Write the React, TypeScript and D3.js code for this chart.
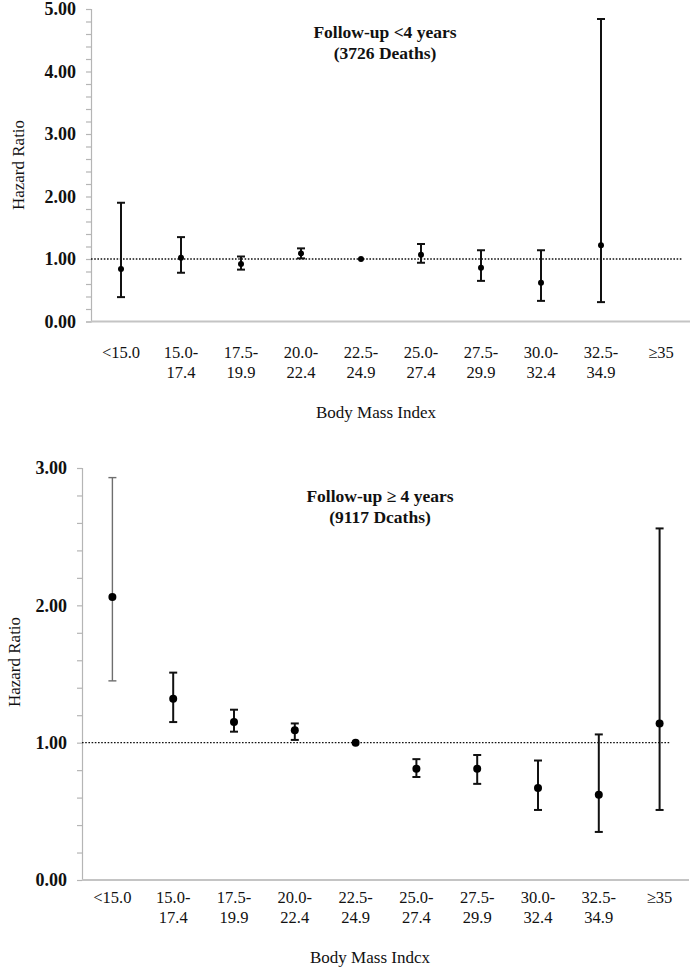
import { useRef, useEffect } from 'react';
import * as d3 from 'd3';

const CAT_LINE1 = ['<15.0', '15.0-', '17.5-', '20.0-', '22.5-', '25.0-', '27.5-', '30.0-', '32.5-', '≥35'];
const CAT_LINE2 = ['', '17.4', '19.9', '22.4', '24.9', '27.4', '29.9', '32.4', '34.9', ''];

// follow-up < 4 years
const HR_SHORT = [0.84, 1.02, 0.92, 1.09, 1.0, 1.07, 0.86, 0.62, 1.22, null];
const LO_SHORT = [0.39, 0.78, 0.83, 1.01, null, 0.94, 0.65, 0.33, 0.31, null];
const HI_SHORT = [1.9, 1.35, 1.04, 1.17, null, 1.24, 1.14, 1.14, 4.84, null];

// follow-up >= 4 years
const HR_LONG = [2.06, 1.32, 1.15, 1.09, 1.0, 0.81, 0.81, 0.67, 0.62, 1.14];
const LO_LONG = [1.45, 1.15, 1.08, 1.02, null, 0.75, 0.7, 0.51, 0.35, 0.51];
const HI_LONG = [2.93, 1.51, 1.24, 1.14, null, 0.88, 0.91, 0.87, 1.06, 2.56];

const Y_MAJOR_SHORT = [0, 1, 2, 3, 4, 5];
const Y_MAJOR_LONG = [0, 1, 2, 3];

const FONT = '"Liberation Serif", "DejaVu Serif", serif';

type Panel = {
  hr: (number | null)[]; lo: (number | null)[]; hi: (number | null)[];
  majors: number[]; x0: number; x1: number; yTop: number; yBot: number;
  title: string[]; titleX: number; titleY: number;
  labY: number; xTitle: string; xTitleX: number; xTitleY: number;
  yTitleX: number; yTitleY: number;
  r: number; refEnd: number; firstGrey: boolean;
};

const PANELS: Panel[] = [
  {
    hr: HR_SHORT, lo: LO_SHORT, hi: HI_SHORT, majors: Y_MAJOR_SHORT,
    x0: 91, x1: 691, yTop: 9, yBot: 321.5,
    title: ['Follow-up <4 years', '(3726 Deaths)'], titleX: 385, titleY: 38,
    labY: 358, xTitle: 'Body Mass Index', xTitleX: 376, xTitleY: 418,
    yTitleX: 24, yTitleY: 165,
    r: 3, refEnd: 683, firstGrey: false,
  },
  {
    hr: HR_LONG, lo: LO_LONG, hi: HI_LONG, majors: Y_MAJOR_LONG,
    x0: 82, x1: 690, yTop: 468, yBot: 880,
    title: ['Follow-up ≥ 4 years', '(9117 Dcaths)'], titleX: 380, titleY: 502,
    labY: 903, xTitle: 'Body Mass Indcx', xTitleX: 370, xTitleY: 963,
    yTitleX: 20, yTitleY: 662,
    r: 4, refEnd: 670, firstGrey: true,
  },
];

export default function App() {
  const ref = useRef<SVGSVGElement>(null);

  useEffect(() => {
    const svg = d3.select(ref.current);
    svg.selectAll('*').remove();

    PANELS.forEach(p => {
      const maxY = d3.max(p.majors) as number;
      const x = d3.scaleBand<number>().domain(d3.range(CAT_LINE1.length)).range([p.x0, p.x1]).padding(0);
      const y = d3.scaleLinear().domain([0, maxY]).range([p.yBot, p.yTop]);
      const cx = (i: number) => (x(i) as number) + x.bandwidth() / 2;
      const g = svg.append('g');

      // y axis with minor ticks every 0.2
      g.append('g').attr('transform', `translate(${p.x0},0)`)
        .call(d3.axisLeft(y).tickValues(d3.range(0, maxY + 0.001, 0.2)).tickSize(5).tickFormat(() => ''))
        .call(s => s.selectAll('line,path').attr('stroke', '#b5b5b5').attr('stroke-width', 1.2));

      g.selectAll('text.ylab').data(p.majors).enter().append('text')
        .attr('x', p.x0 - 15).attr('y', d => y(d)).attr('dy', '0.35em')
        .attr('text-anchor', 'end').attr('font-family', FONT).attr('font-weight', 'bold')
        .attr('font-size', 18).attr('fill', '#111').text(d => d3.format('.2f')(d));

      // x baseline
      g.append('line').attr('x1', p.x0).attr('x2', p.x1 - 1).attr('y1', p.yBot).attr('y2', p.yBot)
        .attr('stroke', '#c4c4c4').attr('stroke-width', 2.2);

      // reference line at HR = 1
      g.append('line').attr('x1', p.x0).attr('x2', p.refEnd).attr('y1', y(1)).attr('y2', y(1))
        .attr('stroke', '#111').attr('stroke-width', 1.3).attr('stroke-dasharray', '1.6,1.6');

      // error bars
      p.hr.forEach((v, i) => {
        if (v == null) return;
        const lo = p.lo[i], hi = p.hi[i];
        const grey = p.firstGrey && i === 0;
        const col = grey ? '#6e6e6e' : '#111';
        const sw = grey ? 1.4 : 2;
        if (lo != null && hi != null) {
          g.append('line').attr('x1', cx(i)).attr('x2', cx(i)).attr('y1', y(lo)).attr('y2', y(hi))
            .attr('stroke', col).attr('stroke-width', sw);
          [lo, hi].forEach(c => {
            g.append('line').attr('x1', cx(i) - 4).attr('x2', cx(i) + 4).attr('y1', y(c)).attr('y2', y(c))
              .attr('stroke', col).attr('stroke-width', sw);
          });
        }
        g.append('circle').attr('cx', cx(i)).attr('cy', y(v)).attr('r', p.r).attr('fill', '#000');
      });

      // category labels
      CAT_LINE1.forEach((t, i) => {
        const tx = g.append('text').attr('x', cx(i)).attr('y', p.labY).attr('text-anchor', 'middle')
          .attr('font-family', FONT).attr('font-size', 16.5).attr('fill', '#111');
        tx.append('tspan').attr('x', cx(i)).text(t);
        if (CAT_LINE2[i]) tx.append('tspan').attr('x', cx(i)).attr('dy', 20).text(CAT_LINE2[i]);
      });

      // panel title
      p.title.forEach((t, k) => {
        g.append('text').attr('x', p.titleX).attr('y', p.titleY + k * 21).attr('text-anchor', 'middle')
          .attr('font-family', FONT).attr('font-weight', 'bold').attr('font-size', 17.5)
          .attr('fill', '#111').text(t);
      });

      // axis titles
      g.append('text').attr('x', p.xTitleX).attr('y', p.xTitleY).attr('text-anchor', 'middle')
        .attr('font-family', FONT).attr('font-size', 17).attr('fill', '#111').text(p.xTitle);
      g.append('text')
        .attr('transform', `translate(${p.yTitleX},${p.yTitleY}) rotate(-90)`)
        .attr('text-anchor', 'middle').attr('font-family', FONT).attr('font-size', 17)
        .attr('fill', '#111').text('Hazard Ratio');
    });
  }, []);

  return (
    <svg ref={ref} width={700} height={971}
      style={{ position: 'absolute', left: 0, top: 0, background: '#fff' }} />
  );
}
